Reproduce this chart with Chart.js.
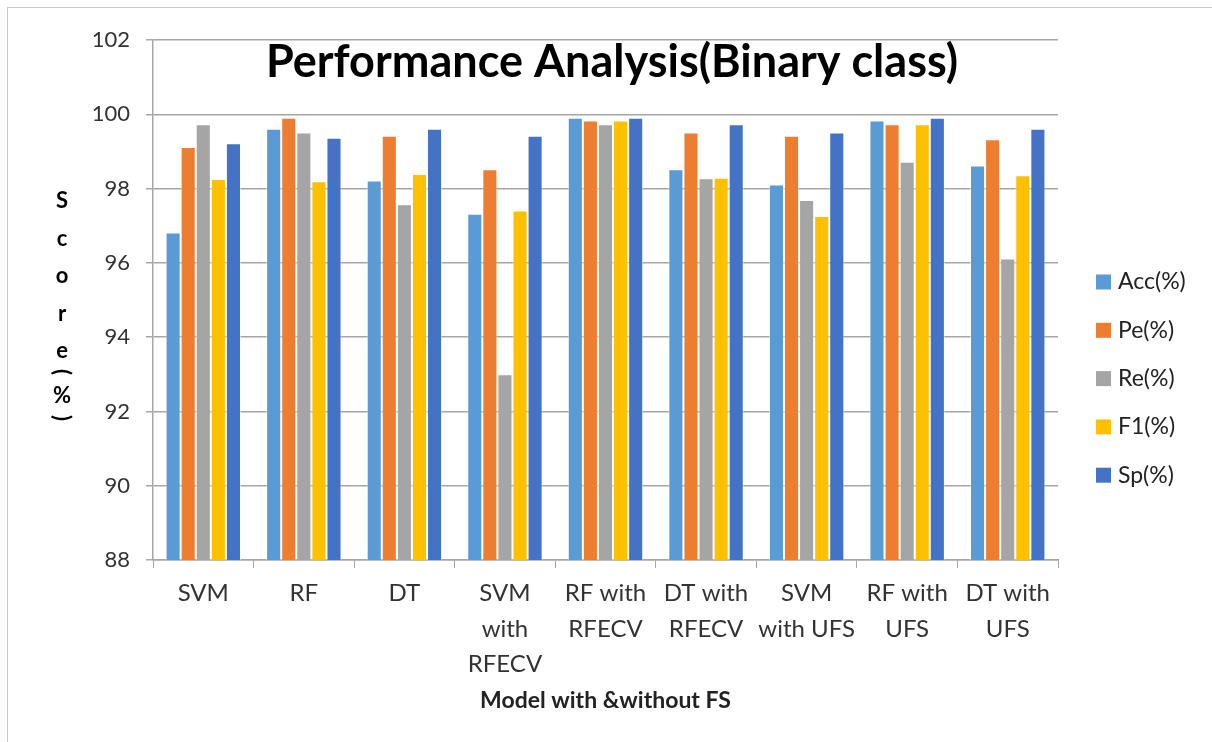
<!DOCTYPE html>
<html>
<head>
<meta charset="utf-8">
<title>Performance Analysis(Binary class)</title>
<script src="https://cdn.jsdelivr.net/npm/chart.js@4.4.0/dist/chart.umd.min.js"></script>
<style>
  html, body { margin: 0; padding: 0; background: #fff; }
  #wrap { position: relative; width: 1212px; height: 742px; }
</style>
</head>
<body>
<div id="wrap"><canvas id="chart" width="1212" height="742"></canvas></div>
<script>
// categories (x axis)
const models = [
  'SVM', 'RF', 'DT',
  ['SVM', 'with', 'RFECV'],
  ['RF with', 'RFECV'],
  ['DT with', 'RFECV'],
  ['SVM', 'with UFS'],
  ['RF with', 'UFS'],
  ['DT with', 'UFS']
];

// series
const seriesNames = ['Acc(%)', 'Pe(%)', 'Re(%)', 'F1(%)', 'Sp(%)'];
const seriesColors = ['#5B9BD5', '#ED7D31', '#A5A5A5', '#FFC000', '#4472C4'];
const accValues = [96.82, 99.61, 98.22, 97.32, 99.91, 98.52, 98.11, 99.83, 98.62];
const peValues  = [99.12, 99.91, 99.42, 98.52, 99.83, 99.51, 99.42, 99.73, 99.33];
const reValues  = [99.73, 99.51, 97.58, 93.00, 99.73, 98.28, 97.69, 98.72, 96.12];
const f1Values  = [98.26, 98.20, 98.39, 97.41, 99.83, 98.29, 97.26, 99.73, 98.36];
const spValues  = [99.22, 99.37, 99.61, 99.42, 99.91, 99.73, 99.51, 99.91, 99.61];
const allValues = [accValues, peValues, reValues, f1Values, spValues];

// y axis range / ticks
const yMin = 88;
const yMax = 102;
const yStep = 2;

const chartTitle = 'Performance Analysis(Binary class)';
const yTitleLetters = ['S', 'c', 'o', 'r', 'e'];
const xTitle = 'Model with &without FS';

const FONT = 'Lato, "Open Sans", sans-serif';

// outer frame + big title + stacked y title + legend, drawn on the canvas
const decorPlugin = {
  id: 'decor',
  beforeDraw(chart) {
    const ctx = chart.ctx;
    ctx.save();
    ctx.fillStyle = '#fff';
    ctx.fillRect(0, 0, chart.width, chart.height);
    ctx.strokeStyle = '#c8c8c8';
    ctx.lineWidth = 1;
    ctx.strokeRect(7.5, 7.5, chart.width + 10, chart.height + 10);
    ctx.restore();
  },
  afterDraw(chart) {
    const ctx = chart.ctx;
    ctx.save();

    // title
    ctx.fillStyle = '#000';
    ctx.font = 'bold 45px ' + FONT;
    ctx.textAlign = 'center';
    ctx.textBaseline = 'middle';
    ctx.fillText(chartTitle, 612, 62);

    // y title (stacked letters)
    ctx.font = 'bold 22px ' + FONT;
    yTitleLetters.forEach((ch, i) => {
      ctx.fillText(ch, 62, 201 + i * 37.5);
    });
    ctx.save();
    ctx.translate(62, 418);
    ctx.rotate(-Math.PI / 2);
    ctx.fillText('(', 0, 0);
    ctx.restore();
    ctx.fillText('%', 62, 396);
    ctx.save();
    ctx.translate(62, 372);
    ctx.rotate(-Math.PI / 2);
    ctx.fillText(')', 0, 0);
    ctx.restore();

    // legend
    ctx.font = '23px ' + FONT;
    ctx.textAlign = 'left';
    chart.data.datasets.forEach((ds, i) => {
      const cy = 282 + i * 48.3;
      ctx.fillStyle = ds.backgroundColor;
      ctx.fillRect(1096, cy - 7.5, 15, 15);
      ctx.fillStyle = '#222';
      ctx.fillText(ds.label, 1118, cy);
    });
    ctx.restore();
  }
};

new Chart(document.getElementById('chart'), {
  type: 'bar',
  data: {
    labels: models,
    datasets: seriesNames.map((name, i) => ({
      label: name,
      data: allValues[i],
      backgroundColor: seriesColors[i],
      borderColor: 'rgba(255,255,255,0.55)',
      borderWidth: 1,
      categoryPercentage: 0.75,
      barPercentage: 1.0
    }))
  },
  options: {
    responsive: false,
    animation: false,
    layout: { padding: { top: 40, right: 154, bottom: 0, left: 0 } },
    plugins: {
      legend: { display: false },
      title: { display: false },
      tooltip: { enabled: false }
    },
    scales: {
      x: {
        grid: {
          display: true,
          drawOnChartArea: false,
          drawTicks: true,
          tickLength: 8,
          color: '#a6a6a6',
          lineWidth: 1
        },
        border: { color: '#a6a6a6', width: 1.5 },
        ticks: {
          color: '#333',
          font: { family: FONT, size: 24, lineHeight: 1.47 },
          padding: 8,
          maxRotation: 0,
          autoSkip: false
        },
        title: {
          display: true,
          text: xTitle,
          color: '#222',
          font: { family: FONT, size: 23, weight: 'bold' },
          padding: { top: 0, bottom: 28 }
        },
        afterFit(scale) { scale.height = 182; }
      },
      y: {
        min: yMin,
        max: yMax,
        grid: {
          color: '#a6a6a6',
          lineWidth: 1.5,
          drawTicks: true,
          tickLength: 7
        },
        border: { color: '#a6a6a6', width: 1.5 },
        ticks: {
          stepSize: yStep,
          color: '#333',
          font: { family: FONT, size: 22 },
          padding: 16
        },
        afterFit(scale) { scale.width = 153; }
      }
    }
  },
  plugins: [decorPlugin]
});
</script>
</body>
</html>
